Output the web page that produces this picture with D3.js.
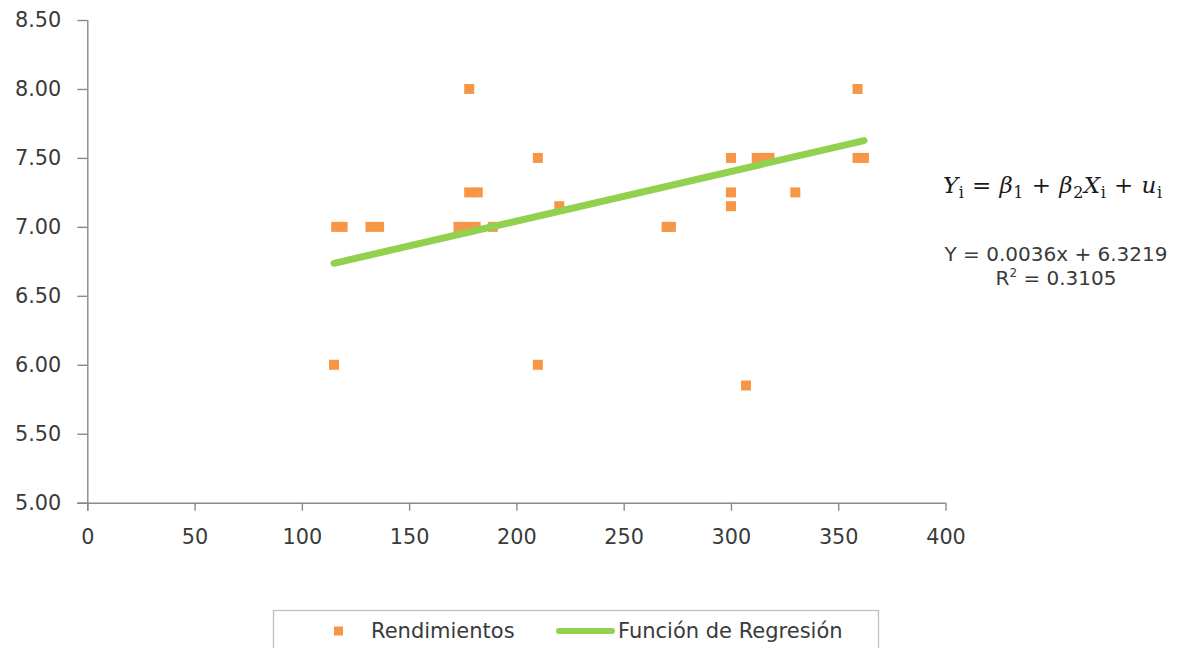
<!DOCTYPE html>
<html>
<head>
<meta charset="utf-8">
<script src="https://cdn.jsdelivr.net/npm/d3@7"></script>
<style>
  html, body { margin: 0; padding: 0; background: #ffffff; }
  svg { display: block; }
  text { font-family: "DejaVu Sans", Verdana, sans-serif; }
</style>
</head>
<body>
<svg id="chart" width="1187" height="648"></svg>
<script>
// ---- Data ----
const xValues = [178, 359,
                 210, 300, 312, 315, 318, 359, 362,
                 178, 182, 300, 330,
                 220, 300,
                 116, 119, 132, 136, 173, 177, 181, 189, 270, 272,
                 115, 210,
                 307];
const yValues = [8.00, 8.00,
                 7.50, 7.50, 7.50, 7.50, 7.50, 7.50, 7.50,
                 7.25, 7.25, 7.25, 7.25,
                 7.15, 7.15,
                 7.00, 7.00, 7.00, 7.00, 7.00, 7.00, 7.00, 7.00, 7.00, 7.00,
                 6.00, 6.00,
                 5.85];
const slope = 0.0036;
const intercept = 6.3219;
const rSquared = 0.3105;
const xTicks = [0, 50, 100, 150, 200, 250, 300, 350, 400];
const yTicks = [5.0, 5.5, 6.0, 6.5, 7.0, 7.5, 8.0, 8.5];
const seriesNames = ["Rendimientos", "Función de Regresión"];

// ---- Styles ----
const orange = "#F79646";
const green = "#92D050";
const axisColor = "#898989";
const textColor = "#3a3a3a";

const svg = d3.select("#chart");

const x = d3.scaleLinear().domain([0, 400]).range([87.3, 945.5]);
const y = d3.scaleLinear().domain([5, 8.5]).range([502.7, 20]);

// X axis
const xAxis = svg.append("g")
  .attr("transform", `translate(0,${y(5)})`)
  .call(d3.axisBottom(x).tickValues(xTicks).tickFormat(d3.format("d"))
        .tickSize(8).tickSizeOuter(0).tickPadding(19));
// Y axis
const yAxis = svg.append("g")
  .attr("transform", `translate(${x(0)},0)`)
  .call(d3.axisLeft(y).tickValues(yTicks).tickFormat(d3.format(".2f"))
        .tickSize(10).tickSizeOuter(0).tickPadding(16));

[xAxis, yAxis].forEach(g => {
  g.select(".domain").attr("stroke", axisColor).attr("stroke-width", 1.4);
  g.selectAll(".tick line").attr("stroke", axisColor).attr("stroke-width", 1.4);
  g.selectAll(".tick text").attr("fill", textColor)
    .style("font-size", "20.8px").style("font-family", "'DejaVu Sans', Verdana, sans-serif");
});
// extend axes to meet at the corner (like Excel)
xAxis.select(".domain").attr("d", `M${x(0) - 10},0.5H${x(400)}`);
yAxis.select(".domain").attr("d", `M0.5,${y(8.5)}V${y(5) + 8}`);

// Points
const pts = xValues.map((v, i) => ({ x: v, y: yValues[i] }));
const ms = 10;
svg.append("g").selectAll("rect").data(pts).join("rect")
  .attr("x", d => x(d.x) - ms / 2)
  .attr("y", d => y(d.y) - ms / 2)
  .attr("width", ms).attr("height", ms)
  .attr("fill", orange);

// Regression line
const xExt = d3.extent(xValues);
const lineData = xExt.map(v => ({ x: v, y: slope * v + intercept }));
svg.append("path")
  .datum(lineData)
  .attr("d", d3.line().x(d => x(d.x)).y(d => y(d.y)))
  .attr("fill", "none")
  .attr("stroke", green)
  .attr("stroke-width", 7)
  .attr("stroke-linecap", "round");

// Model equation (math style)
const eq = svg.append("text")
  .attr("x", 943).attr("y", 193)
  .attr("textLength", 219).attr("lengthAdjust", "spacing")
  .style("font-family", "'DejaVu Serif', 'Liberation Serif', serif")
  .style("font-size", "23px")
  .attr("fill", "#1a1a1a");
const parts = [
  ["Y", "it"], ["i", "sub"], [" = ", "n"], ["β", "it"], ["1", "sub"],
  [" + ", "n"], ["β", "it"], ["2", "sub"], ["X", "it"], ["i", "sub"],
  [" + ", "n"], ["u", "it"], ["i", "sub"]
];
let sub = false;
parts.forEach(([t, kind]) => {
  const ts = eq.append("tspan").text(t);
  if (kind === "it") ts.style("font-style", "italic");
  if (kind === "sub") {
    ts.style("font-size", "16px").attr("dy", sub ? 0 : 5);
    sub = true;
  } else {
    if (sub) ts.attr("dy", -5);
    sub = false;
  }
});

// Trendline label
svg.append("text")
  .attr("x", 1056).attr("y", 261)
  .attr("text-anchor", "middle")
  .style("font-size", "20px")
  .attr("fill", textColor)
  .text(`Y = ${slope.toFixed(4)}x + ${intercept.toFixed(4)}`);
const r2 = svg.append("text")
  .attr("x", 1056).attr("y", 285)
  .attr("text-anchor", "middle")
  .style("font-size", "20px")
  .attr("fill", textColor);
r2.append("tspan").text("R");
r2.append("tspan").text("2").style("font-size", "12px").attr("dy", -8);
r2.append("tspan").text(` = ${rSquared.toFixed(4)}`).attr("dy", 8);

// Legend
const lg = svg.append("g");
lg.append("rect")
  .attr("x", 273.5).attr("y", 610.5)
  .attr("width", 605).attr("height", 50)
  .attr("fill", "#fff").attr("stroke", "#bfbfbf").attr("stroke-width", 1.3);
lg.append("rect")
  .attr("x", 334).attr("y", 626.5).attr("width", 9).attr("height", 9)
  .attr("fill", orange);
lg.append("text")
  .attr("x", 371).attr("y", 638)
  .style("font-size", "21px").attr("fill", textColor)
  .text(seriesNames[0]);
lg.append("line")
  .attr("x1", 559).attr("x2", 612).attr("y1", 631).attr("y2", 631)
  .attr("stroke", green).attr("stroke-width", 6).attr("stroke-linecap", "round");
lg.append("text")
  .attr("x", 618).attr("y", 638)
  .style("font-size", "21px").attr("fill", textColor)
  .text(seriesNames[1]);
</script>
</body>
</html>
